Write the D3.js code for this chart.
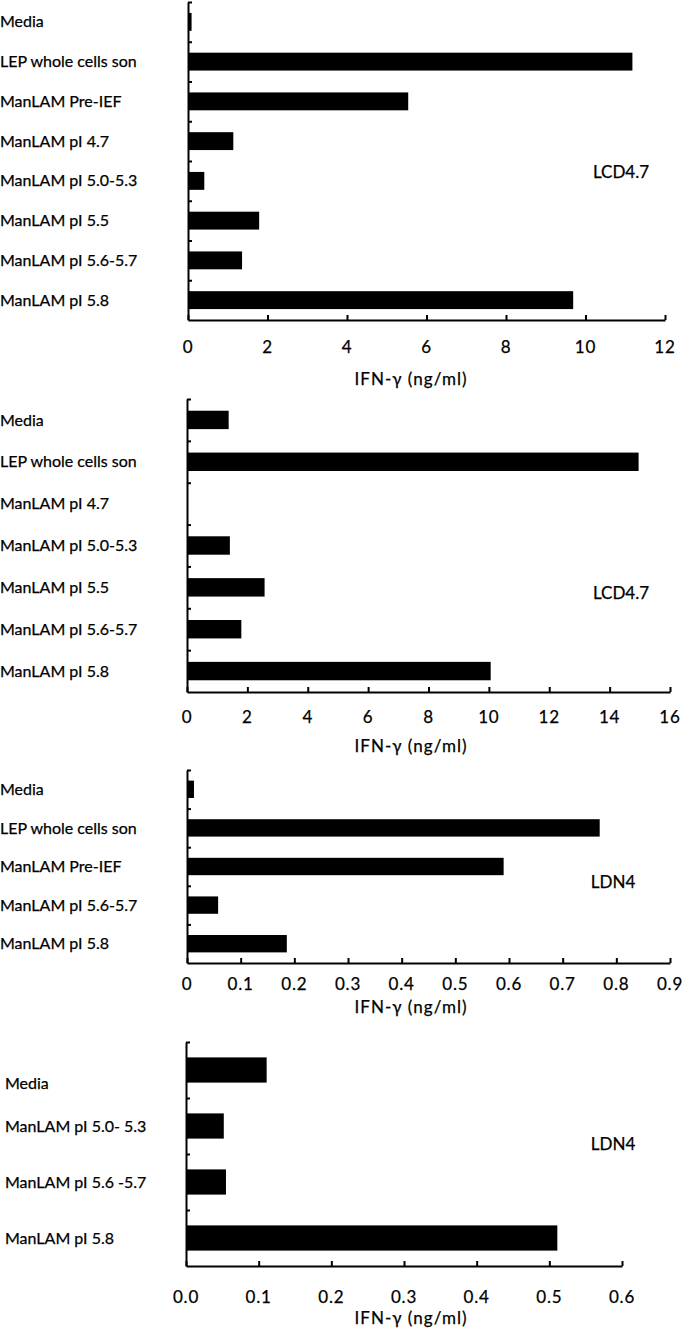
<!DOCTYPE html>
<html><head><meta charset="utf-8">
<script src="https://cdn.jsdelivr.net/npm/d3@7"></script>
<style>
body{margin:0;background:#fff}
text{font-family:Lato,"Open Sans",sans-serif;fill:#000;stroke:#000;stroke-width:0.25px}
</style>
</head><body>
<svg id="c" width="683" height="1329"></svg>
<script>
// ---------- DATA ----------
const cats1 = ["Media","LEP whole cells son","ManLAM Pre-IEF","ManLAM pI 4.7","ManLAM pI 5.0-5.3","ManLAM pI 5.5","ManLAM pI 5.6-5.7","ManLAM pI 5.8"];
const vals1 = [0.09, 11.18, 5.54, 1.14, 0.41, 1.79, 1.36, 9.69];
const ticks1 = [0, 2, 4, 6, 8, 10, 12];
const tickLabels1 = ["0","2","4","6","8","10","12"];

const cats2 = ["Media","LEP whole cells son","ManLAM pI 4.7","ManLAM pI 5.0-5.3","ManLAM pI 5.5","ManLAM pI 5.6-5.7","ManLAM pI 5.8"];
const vals2 = [1.38, 14.96, 0, 1.42, 2.57, 1.80, 10.06];
const ticks2 = [0, 2, 4, 6, 8, 10, 12, 14, 16];
const tickLabels2 = ["0","2","4","6","8","10","12","14","16"];

const cats3 = ["Media","LEP whole cells son","ManLAM Pre-IEF","ManLAM pI 5.6-5.7","ManLAM pI 5.8"];
const vals3 = [0.013, 0.769, 0.59, 0.058, 0.186];
const ticks3 = [0, 0.1, 0.2, 0.3, 0.4, 0.5, 0.6, 0.7, 0.8, 0.9];
const tickLabels3 = ["0","0.1","0.2","0.3","0.4","0.5","0.6","0.7","0.8","0.9"];

const cats4 = ["Media","ManLAM pI 5.0- 5.3","ManLAM pI 5.6 -5.7","ManLAM pI 5.8"];
const vals4 = [0.111, 0.052, 0.055, 0.511];
const ticks4 = [0, 0.1, 0.2, 0.3, 0.4, 0.5, 0.6];
const tickLabels4 = ["0.0","0.1","0.2","0.3","0.4","0.5","0.6"];

const axisTitle = "IFN-\u03b3 (ng/ml)";
const tags = ["LCD4.7","LCD4.7","LDN4","LDN4"];

// ---------- LAYOUT ----------
const svg = d3.select("#c");
const layouts = [
  {top:2,   bottom:320,  x0:188, x1:665, pad:0.55, tickY:353,  titleY:385,  tagX:621, tagY:178,  labelX:0, labelShift:[0,0,0,0,0,0,0,0]},
  {top:399, bottom:692,  x0:187, x1:670, pad:0.56, tickY:723,  titleY:752,  tagX:621, tagY:599,  labelX:0, labelShift:[0,0,0,0,0,0,0]},
  {top:770, bottom:963,  x0:187, x1:670, pad:0.55, tickY:990,  titleY:1013, tagX:613, tagY:888,  labelX:0, labelShift:[0,0,0,0,0]},
  {top:1042,bottom:1266, x0:186, x1:622, pad:0.55, tickY:1303, titleY:1324, tagX:613, tagY:1150, labelX:5, labelShift:[13,0,0,0]}
];
const panels = [
  {cats:cats1, vals:vals1, ticks:ticks1, labels:tickLabels1},
  {cats:cats2, vals:vals2, ticks:ticks2, labels:tickLabels2},
  {cats:cats3, vals:vals3, ticks:ticks3, labels:tickLabels3},
  {cats:cats4, vals:vals4, ticks:ticks4, labels:tickLabels4}
];

panels.forEach((p, i) => {
  const L = layouts[i];
  const g = svg.append("g");
  const x = d3.scaleLinear().domain([p.ticks[0], p.ticks[p.ticks.length-1]]).range([L.x0, L.x1]);
  const y = d3.scaleBand().domain(p.cats).range([L.top, L.bottom]).paddingInner(L.pad).paddingOuter(L.pad/2);
  const yb = d3.scaleLinear().domain([0, p.cats.length]).range([L.top, L.bottom]);

  // bars
  g.selectAll("rect.bar").data(p.cats).enter().append("rect")
    .attr("x", x(0)).attr("y", d => y(d))
    .attr("width", (d,j) => Math.max(0, x(p.vals[j]) - x(0)))
    .attr("height", y.bandwidth()).attr("fill", "#000");

  // left axis (band boundaries)
  const la = g.append("g").attr("transform", `translate(${L.x0},0)`)
    .call(d3.axisLeft(yb).tickValues(d3.range(0, p.cats.length)).tickSizeInner(-4).tickSizeOuter(0).tickFormat(""));
  la.select(".domain").attr("stroke-width", 2);
  la.selectAll(".tick line").attr("stroke-width", 2);

  // bottom axis
  const ba = g.append("g").attr("transform", `translate(0,${L.bottom})`)
    .call(d3.axisBottom(x).tickValues(p.ticks).tickSizeInner(-5).tickSizeOuter(0).tickFormat(""));
  ba.select(".domain").attr("stroke-width", 2);
  ba.selectAll(".tick line").attr("stroke-width", 2);

  // tick labels
  g.selectAll("text.tl").data(p.ticks).enter().append("text")
    .attr("x", d => x(d)).attr("y", L.tickY).attr("text-anchor", "middle")
    .attr("font-size", 17).attr("letter-spacing", 0.8).text((d,j) => p.labels[j]);

  // axis title
  g.append("text").attr("x", 411).attr("y", L.titleY).attr("text-anchor", "middle")
    .attr("font-size", 17).attr("letter-spacing", 1).text(axisTitle);

  // category labels
  g.selectAll("text.cl").data(p.cats).enter().append("text")
    .attr("x", L.labelX).attr("y", (d,j) => y(d) + y.bandwidth()/2 + L.labelShift[j])
    .attr("dy", "0.35em").attr("font-size", 16).text(d => d);

  // tag
  g.append("text").attr("x", L.tagX).attr("y", L.tagY).attr("text-anchor", "middle")
    .attr("font-size", 17).text(tags[i]);
});
</script>
</body></html>
